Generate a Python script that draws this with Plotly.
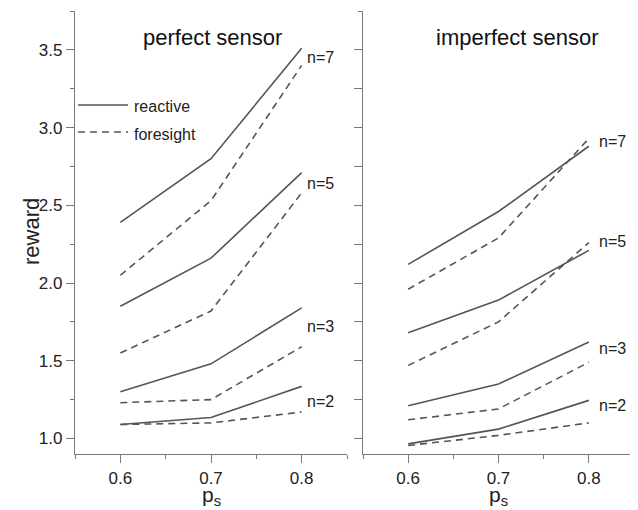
import plotly.graph_objects as go

ps = [0.6, 0.7, 0.8]
n_labels = ["n=7", "n=5", "n=3", "n=2"]

# perfect sensor
perf_reactive = {
    "n=7": [2.39, 2.80, 3.51],
    "n=5": [1.85, 2.16, 2.71],
    "n=3": [1.30, 1.48, 1.84],
    "n=2": [1.09, 1.135, 1.335],
}
perf_foresight = {
    "n=7": [2.05, 2.53, 3.40],
    "n=5": [1.55, 1.82, 2.58],
    "n=3": [1.23, 1.25, 1.59],
    "n=2": [1.09, 1.10, 1.17],
}
# imperfect sensor
imp_reactive = {
    "n=7": [2.12, 2.46, 2.88],
    "n=5": [1.68, 1.89, 2.21],
    "n=3": [1.21, 1.35, 1.62],
    "n=2": [0.965, 1.06, 1.245],
}
imp_foresight = {
    "n=7": [1.96, 2.29, 2.93],
    "n=5": [1.47, 1.75, 2.26],
    "n=3": [1.12, 1.19, 1.49],
    "n=2": [0.955, 1.02, 1.10],
}
perf_label_y = {"n=7": 3.45, "n=5": 2.64, "n=3": 1.72, "n=2": 1.24}
imp_label_y = {"n=7": 2.91, "n=5": 2.27, "n=3": 1.58, "n=2": 1.21}

y_ticks = [1.0, 1.5, 2.0, 2.5, 3.0, 3.5]
y_ticktext = ["1.0", "1.5", "2.0", "2.5", "3.0", "3.5"]
y_ticks_right = [1.0, 1.25, 1.5, 1.75, 2.0, 2.25, 2.5, 2.75, 3.0, 3.25, 3.5]
x_ticks = [0.6, 0.7, 0.8]
x_ticktext = ["0.6", "0.7", "0.8"]

LINE = "#555555"
AX = "#7a7a7a"
TXT = "#222222"
FONT = "Liberation Sans, Arial, sans-serif"
DASH = "7px,5px"

fig = go.Figure()

for n in n_labels:
    fig.add_trace(go.Scatter(x=ps, y=perf_reactive[n], mode="lines",
                             line=dict(color=LINE, width=1.6), xaxis="x", yaxis="y", showlegend=False))
    fig.add_trace(go.Scatter(x=ps, y=perf_foresight[n], mode="lines",
                             line=dict(color=LINE, width=1.6, dash=DASH), xaxis="x", yaxis="y", showlegend=False))
    fig.add_trace(go.Scatter(x=ps, y=imp_reactive[n], mode="lines",
                             line=dict(color=LINE, width=1.6), xaxis="x2", yaxis="y2", showlegend=False))
    fig.add_trace(go.Scatter(x=ps, y=imp_foresight[n], mode="lines",
                             line=dict(color=LINE, width=1.6, dash=DASH), xaxis="x2", yaxis="y2", showlegend=False))

# page body has an 8px margin, so the figure is 630x502 placed at (8, 8)
OFF = 8
W, H = 630, 502
def px(xp):
    return (xp - OFF) / W
def py(yp):
    return 1 - (yp - OFF) / H

xdom1 = [px(75), px(347)]
xdom2 = [px(363), px(634)]
ydom = [py(454), py(11)]

axis_common = dict(showgrid=False, zeroline=False, showline=True, linecolor=AX, linewidth=1.2,
                   ticks="outside", tickcolor=AX, ticklen=8, tickwidth=1.2,
                   tickfont=dict(family=FONT, size=17, color=TXT))
minor_x = dict(dtick=0.05, tick0=0.55, ticklen=4, tickcolor=AX, ticks="outside")
minor_y = dict(dtick=0.25, tick0=1.0, ticklen=4, tickcolor=AX, ticks="outside")

fig.update_layout(
    width=W, height=H,
    margin=dict(l=0, r=0, t=0, b=0),
    paper_bgcolor="white", plot_bgcolor="white",
    font=dict(family=FONT, color=TXT),
    xaxis=dict(domain=xdom1, range=[0.55, 0.85], tickvals=x_ticks, ticktext=x_ticktext,
               anchor="y", minor=minor_x, **axis_common),
    yaxis=dict(domain=ydom, range=[0.9, 3.75], tickvals=y_ticks, ticktext=y_ticktext,
               anchor="x", minor=minor_y, **axis_common),
    xaxis2=dict(domain=xdom2, range=[0.55, 0.85], tickvals=x_ticks, ticktext=x_ticktext,
                anchor="y2", minor=minor_x, **axis_common),
    yaxis2=dict(domain=ydom, range=[0.9, 3.75], tickvals=y_ticks_right,
                showticklabels=False, anchor="x2", minor=minor_y, **axis_common),
)

ann = []
for n in n_labels:
    ann.append(dict(x=0.8, y=perf_label_y[n], xref="x", yref="y", text=n, showarrow=False,
                    xanchor="left", yanchor="middle", xshift=3, font=dict(family=FONT, size=16, color=TXT)))
    ann.append(dict(x=0.8, y=imp_label_y[n], xref="x2", yref="y2", text=n, showarrow=False,
                    xanchor="left", yanchor="middle", xshift=8, font=dict(family=FONT, size=16, color=TXT)))

def center_ann(x, y, text, size, xref="paper", yref="paper", angle=0, color=TXT):
    return dict(x=x, y=y, xref=xref, yref=yref, text=text, showarrow=False, textangle=angle,
                xanchor="center", yanchor="middle", borderpad=0,
                font=dict(family=FONT, size=size, color=color))

ann += [
    center_ann(px(212), py(38), "perfect sensor", 22, color="#111111"),
    center_ann(px(517), py(38), "imperfect sensor", 22, color="#111111"),
    center_ann(px(31), py(232), "reward", 22, angle=-90),
    center_ann(0.7, py(496), "p<sub>s</sub>", 21, xref="x"),
    center_ann(0.7, py(496), "p<sub>s</sub>", 21, xref="x2"),
    dict(x=px(132), y=py(106), xref="paper", yref="paper", text="reactive", showarrow=False,
         xanchor="left", yanchor="middle", font=dict(family=FONT, size=16, color=TXT)),
    dict(x=px(132), y=py(134), xref="paper", yref="paper", text="foresight", showarrow=False,
         xanchor="left", yanchor="middle", font=dict(family=FONT, size=16, color=TXT)),
]
fig.update_layout(annotations=ann)

fig.update_layout(shapes=[
    dict(type="line", xref="paper", yref="paper", x0=px(78), x1=px(128), y0=py(105), y1=py(105),
         line=dict(color=LINE, width=1.6)),
    dict(type="line", xref="paper", yref="paper", x0=px(78), x1=px(128), y0=py(132), y1=py(132),
         line=dict(color=LINE, width=1.6, dash=DASH)),
])

fig.write_html("out.html")
